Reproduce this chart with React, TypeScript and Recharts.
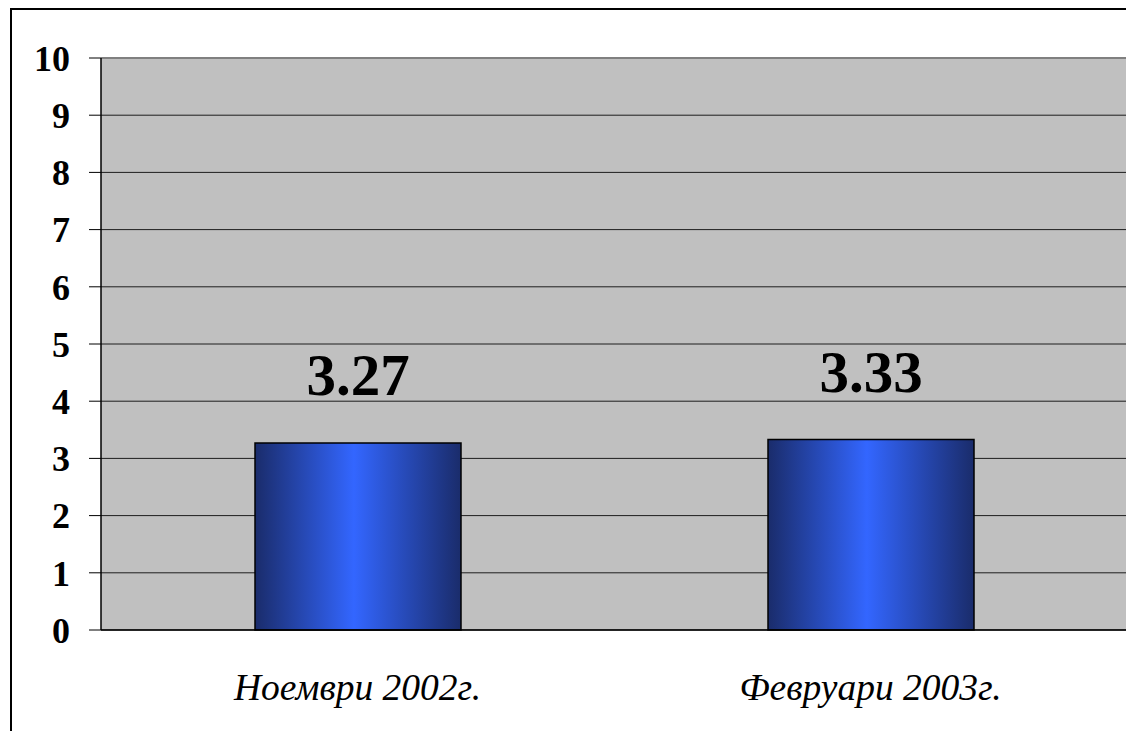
import { Bar, BarChart, CartesianGrid, LabelList, ReferenceLine, XAxis, YAxis } from 'recharts';

const periods = ['Ноември 2002г.', 'Февруари 2003г.'];
const scores = [3.27, 3.33];
const yTicks = [0, 1, 2, 3, 4, 5, 6, 7, 8, 9, 10];
const edgeTicks = [0, 1, 2];

const data = periods.map((period, i) => ({ period, idx: i + 0.5, score: scores[i] }));

const serif = 'Liberation Serif';

const App = () => (
  <div
    style={{
      position: 'fixed',
      left: 0,
      top: 0,
      width: 1126,
      height: 731,
      overflow: 'hidden',
      background: '#fff',
      fontFamily: "'Liberation Serif', 'Times New Roman', serif",
    }}
  >
    <div
      style={{
        position: 'absolute',
        left: 10,
        top: 8,
        width: 1116,
        height: 723,
        borderLeft: '2px solid #000',
        borderTop: '2px solid #000',
        boxSizing: 'border-box',
      }}
    />
    <div style={{ position: 'absolute', left: 8, top: 8, width: 1118, height: 723, overflow: 'hidden' }}>
      <BarChart
        width={1118}
        height={723}
        data={data}
        margin={{ top: 50, right: -1, left: 0, bottom: 41 }}
        barSize={206}
        style={{ fontFamily: "'Liberation Serif', serif" }}
      >
        <defs>
          <linearGradient id="barFill" x1="0" y1="0" x2="1" y2="0">
            <stop offset="0%" stopColor="#1a2c6b" />
            <stop offset="48%" stopColor="#3366ff" />
            <stop offset="100%" stopColor="#1a2c6b" />
          </linearGradient>
        </defs>
        <CartesianGrid vertical={false} fill="#c0c0c0" stroke="#000" strokeOpacity={0.85} />
        <XAxis
          xAxisId="edge"
          type="number"
          dataKey="idx"
          domain={[0, 2]}
          ticks={edgeTicks}
          tick={false}
          height={0}
          tickSize={12}
          axisLine={false}
          tickLine={{ stroke: '#000', strokeWidth: 1.5 }}
        />
        <XAxis
          dataKey="period"
          height={60}
          tickLine={false}
          tickMargin={37}
          axisLine={{ stroke: '#000', strokeWidth: 1.5 }}
          tick={{ fill: '#000', fontSize: 37.5, fontStyle: 'italic', fontFamily: serif }}
        />
        <YAxis
          width={93}
          domain={[0, 10]}
          ticks={yTicks}
          interval={0}
          tickSize={12}
          tickMargin={19}
          axisLine={{ stroke: '#000', strokeWidth: 1.5 }}
          tickLine={{ stroke: '#000' }}
          tick={{ fill: '#000', fontSize: 36, fontWeight: 'bold', fontFamily: serif }}
        />
        <ReferenceLine y={10} stroke="#808080" strokeWidth={2} />
        <Bar dataKey="score" fill="url(#barFill)" stroke="#000" strokeWidth={1.5} isAnimationActive={false}>
          <LabelList
            dataKey="score"
            position="top"
            offset={48}
            fill="#000"
            fontSize={59}
            fontWeight="bold"
            fontFamily={serif}
          />
        </Bar>
      </BarChart>
    </div>
  </div>
);

export default App;
